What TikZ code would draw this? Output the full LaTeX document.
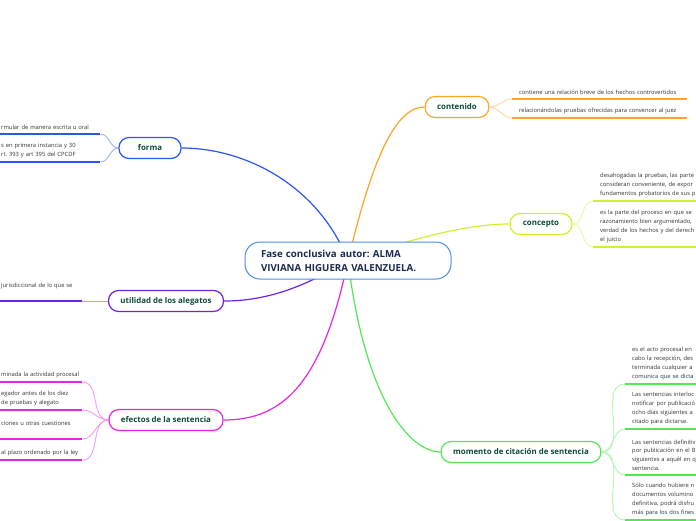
\documentclass[tikz,border=0pt]{standalone}
\usepackage{fontspec}
\setmainfont{Open Sans}
\usepackage{tikz}
\usetikzlibrary{backgrounds}
\frenchspacing
\definecolor{hubline}{HTML}{4A90E2}
\definecolor{hubtext}{HTML}{1B2A4E}
\definecolor{topictext}{HTML}{0D4A3C}
\definecolor{leaftext}{HTML}{333333}
\definecolor{cforma}{HTML}{2B55F5}
\definecolor{cutil}{HTML}{6E22EE}
\definecolor{cefec}{HTML}{E526E5}
\definecolor{ccont}{HTML}{F8A52A}
\definecolor{cconc}{HTML}{D2F030}
\definecolor{cmom}{HTML}{55E655}

\begin{document}
\begin{tikzpicture}[x=1pt,y=-1pt,
    hub/.style={draw=hubline,line width=1pt,fill=white,rounded corners=15pt,text width=174pt,inner xsep=16pt,minimum height=37pt,align=left,text=hubtext,font=\fontsize{9.7}{14}\selectfont\bfseries},
    topic/.style={draw=#1,line width=1.2pt,fill=white,rounded corners=10pt,minimum width=62pt,minimum height=21pt,inner xsep=12pt,text=topictext,font=\fontsize{7.9}{9}\selectfont\bfseries},
    leafL/.style={anchor=south west,text width=#1,inner xsep=1pt,inner ysep=4pt,align=left,text=leaftext,font=\fontsize{5.8}{8.9}\selectfont},
    leafR/.style={anchor=south west,text width=#1,inner xsep=7pt,inner ysep=4pt,align=left,text=leaftext,font=\fontsize{5.8}{8.9}\selectfont},
    uline/.style={draw=#1,line width=2pt},
    branch/.style={draw=#1,line width=1.2pt},
    twig/.style={draw=#1!45,line width=0.9pt}
]
    \useasboundingbox (0,0) rectangle (696,520);

    % centre and main topics
    \node[hub] (hub) at (348,260.5) {Fase conclusiva autor: ALMA\\VIVIANA HIGUERA VALENZUELA.};
    \node[topic=cforma] (forma) at (150,148) {forma};
    \node[topic=cutil] (util) at (166,301) {utilidad de los alegatos};
    \node[topic=cefec] (efec) at (166,420) {efectos de la sentencia};
    \node[topic=ccont] (cont) at (457,107) {contenido};
    \node[topic=cconc] (conc) at (541,224) {concepto};
    \node[topic=cmom] (mom) at (521,452) {momento de citación de sentencia};

    % left leaves
    \node[leafL=98pt] (fo1) at (0,134) {rmular de manera escrita u oral};
    \node[leafL=98pt] (fo2) at (0,162) {s en primera instancia y 30\\rt. 393 y art 395 del CPCDF};
    \node[leafL=80pt] (ut1) at (0,301) {jurisdiccional de lo que se\\\mbox{}};
    \node[leafL=80pt] (ef1) at (0,382) {minada la actividad procesal};
    \node[leafL=80pt] (ef2) at (0,410) {egador antes de los diez\\de pruebas y alegato};
    \node[leafL=80pt] (ef3) at (0,439) {ciones u otras cuestiones\\\mbox{}};
    \node[leafL=80pt] (ef4) at (0,460) {al plazo ordenado por la ley};

    % right leaves
    \node[leafR=161pt] (co1) at (512,99) {contiene una relación breve de los hechos controvertidos};
    \node[leafR=161pt] (co2) at (512,118) {relacionándolas pruebas ofrecidas para convencer al juez};
    \node[leafR=140pt] (cp1) at (593,201) {desahogadas la pruebas, las parte\\consideran conveniente, de expor\\fundamentos probatorios de sus p};
    \node[leafR=140pt] (cp2) at (593,247) {es la parte del proceso en que se\\razonamiento bien argumentado,\\verdad de los hechos y del derech\\el juicio};
    \node[leafR=120pt] (mo1) at (625,384) {es el acto procesal en\\cabo la recepción, des\\terminada cualquier a\\comunica que se dicta};
    \node[leafR=120pt] (mo2) at (625,429) {Las sentencias interloc\\notificar por publicació\\ocho días siguientes a\\citado para dictarse.};
    \node[leafR=120pt] (mo3) at (625,475) {Las sentencias definitiv\\por publicación en el B\\siguientes a aquél en q\\sentencia.};
    \node[leafR=120pt] (mo4) at (625,520) {Sólo cuando hubiere n\\documentos volumino\\definitiva, podrá disfru\\más para los dos fines};

    \foreach \n/\c in {fo1/cforma,fo2/cforma,ut1/cutil,ef1/cefec,ef2/cefec,ef3/cefec,ef4/cefec,
                      co1/ccont,co2/ccont,cp1/cconc,cp2/cconc,mo1/cmom,mo2/cmom,mo3/cmom,mo4/cmom}
        \draw[uline=\c] (\n.south west) -- (\n.south east);

    \begin{scope}[on background layer]
        \fill[white] (0,0) rectangle (696,520);
        % branches from the centre
        \draw[branch=cforma] (hub.center) .. controls (318,185) and (245,148) .. (forma.east);
        \draw[branch=cutil] (hub.center) .. controls (300,290) and (262,301) .. (util.east);
        \draw[branch=cefec] (hub.center) .. controls (322,385) and (282,420) .. (efec.east);
        \draw[branch=ccont] (hub.center) .. controls (372,160) and (395,107) .. (cont.west);
        \draw[branch=cconc] (hub.center) .. controls (420,236) and (470,224) .. (conc.west);
        \draw[branch=cmom] (hub.center) .. controls (365,400) and (410,452) .. (mom.west);
        % twigs to the leaves
        \draw[twig=cforma] (forma.west) to[out=180,in=0] (fo1.south east);
        \draw[twig=cforma] (forma.west) to[out=180,in=0] (fo2.south east);
        \draw[twig=cutil] (util.west) -- (ut1.south east);
        \foreach \n in {ef1,ef2,ef3,ef4}
            \draw[twig=cefec] (efec.west) to[out=180,in=0] (\n.south east);
        \foreach \n in {co1,co2}
            \draw[twig=ccont] (cont.east) to[out=0,in=180] (\n.south west);
        \foreach \n in {cp1,cp2}
            \draw[twig=cconc] (conc.east) to[out=0,in=180] (\n.south west);
        \foreach \n in {mo1,mo2,mo3,mo4}
            \draw[twig=cmom] (mom.east) to[out=0,in=180] (\n.south west);
    \end{scope}
\end{tikzpicture}
\end{document}
